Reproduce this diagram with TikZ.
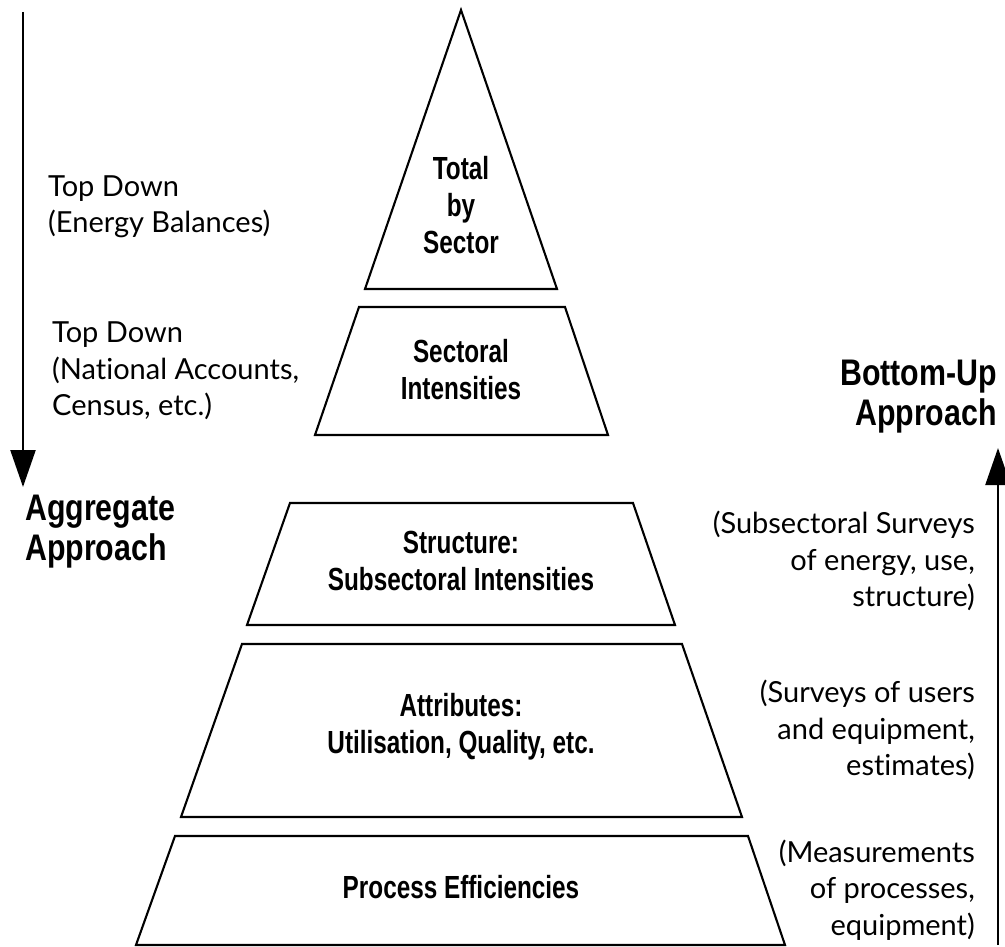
\documentclass[tikz,border=0pt]{standalone}
\usepackage{fontspec}
\newfontfamily\lightfont[Ligatures=NoCommon]{Lato}
\newfontfamily\boxfont[FakeStretch=0.76]{Liberation Sans}
\newfontfamily\headfont[FakeStretch=0.82]{Liberation Sans}
\usetikzlibrary{arrows.meta}

\begin{document}
\begin{tikzpicture}[x=1pt,y=-1pt,
    level/.style={draw, line width=2.1pt},
    flow/.style={line width=2.3pt, -{Triangle[length=37pt,width=25pt]}},
    boxtext/.style={font=\boxfont\bfseries\fontsize{32}{37}\selectfont, align=center, inner sep=0pt},
    lighttext/.style={font=\lightfont\fontsize{29}{36.5}\selectfont, inner sep=0pt},
    headtext/.style={font=\headfont\bfseries\fontsize{37}{40}\selectfont, inner sep=0pt}]

    % fix the page to the size of the reference
    \useasboundingbox (0,0) rectangle (1005,947);

    % the pyramid, top to bottom
    \draw[level] (461,10) -- (557,289) -- (365,289) -- cycle;
    \draw[level] (359,307) -- (565,307) -- (608,435) -- (315,435) -- cycle;
    \draw[level] (290,503) -- (633,503) -- (675,625) -- (247,625) -- cycle;
    \draw[level] (242,644) -- (682,644) -- (742,817) -- (181,817) -- cycle;
    \draw[level] (175,836) -- (748,836) -- (785,945) -- (136,945) -- cycle;

    \node[boxtext] (total) at (461,205) {Total\\by\\Sector};
    \node[boxtext] (sectoral) at (461,370) {Sectoral\\Intensities};
    \node[boxtext] (structure) at (461,561) {Structure:\\Subsectoral Intensities};
    \node[boxtext] (attributes) at (461,727) {Attributes:\\Utilisation, Quality, etc.};
    \node[boxtext] (process) at (461,887) {Process Efficiencies};

    % left side: top down
    \coordinate (downtop) at (23,12);
    \coordinate (downtip) at (23,487);
    \draw[flow] (downtop) -- (downtip);

    \node[lighttext, anchor=west, align=left] (energybal) at (48,207) {Top Down\\(Energy Balances)};
    \node[lighttext, anchor=west, align=left] (natacc) at (52,371) {Top Down\\(National Accounts,\\Census, etc.)};
    \node[headtext, anchor=west, align=left] (aggregate) at (25,532) {Aggregate\\Approach};

    % right side: bottom up
    \coordinate (upfoot) at (998,945);
    \coordinate (uptip) at (998,448);
    \draw[flow] (upfoot) -- (uptip);

    \node[headtext, anchor=east, align=right] (bottomup) at (997,397) {Bottom-Up\\Approach};
    \node[lighttext, anchor=east, align=right] (subsurv) at (975,561) {(Subsectoral Surveys\\of energy, use,\\structure)};
    \node[lighttext, anchor=east, align=right] (survusers) at (975,730) {(Surveys of users\\and equipment,\\estimates)};
    \node[lighttext, anchor=east, align=right] (measure) at (975,890) {(Measurements\\of processes,\\equipment)};

\end{tikzpicture}
\end{document}
